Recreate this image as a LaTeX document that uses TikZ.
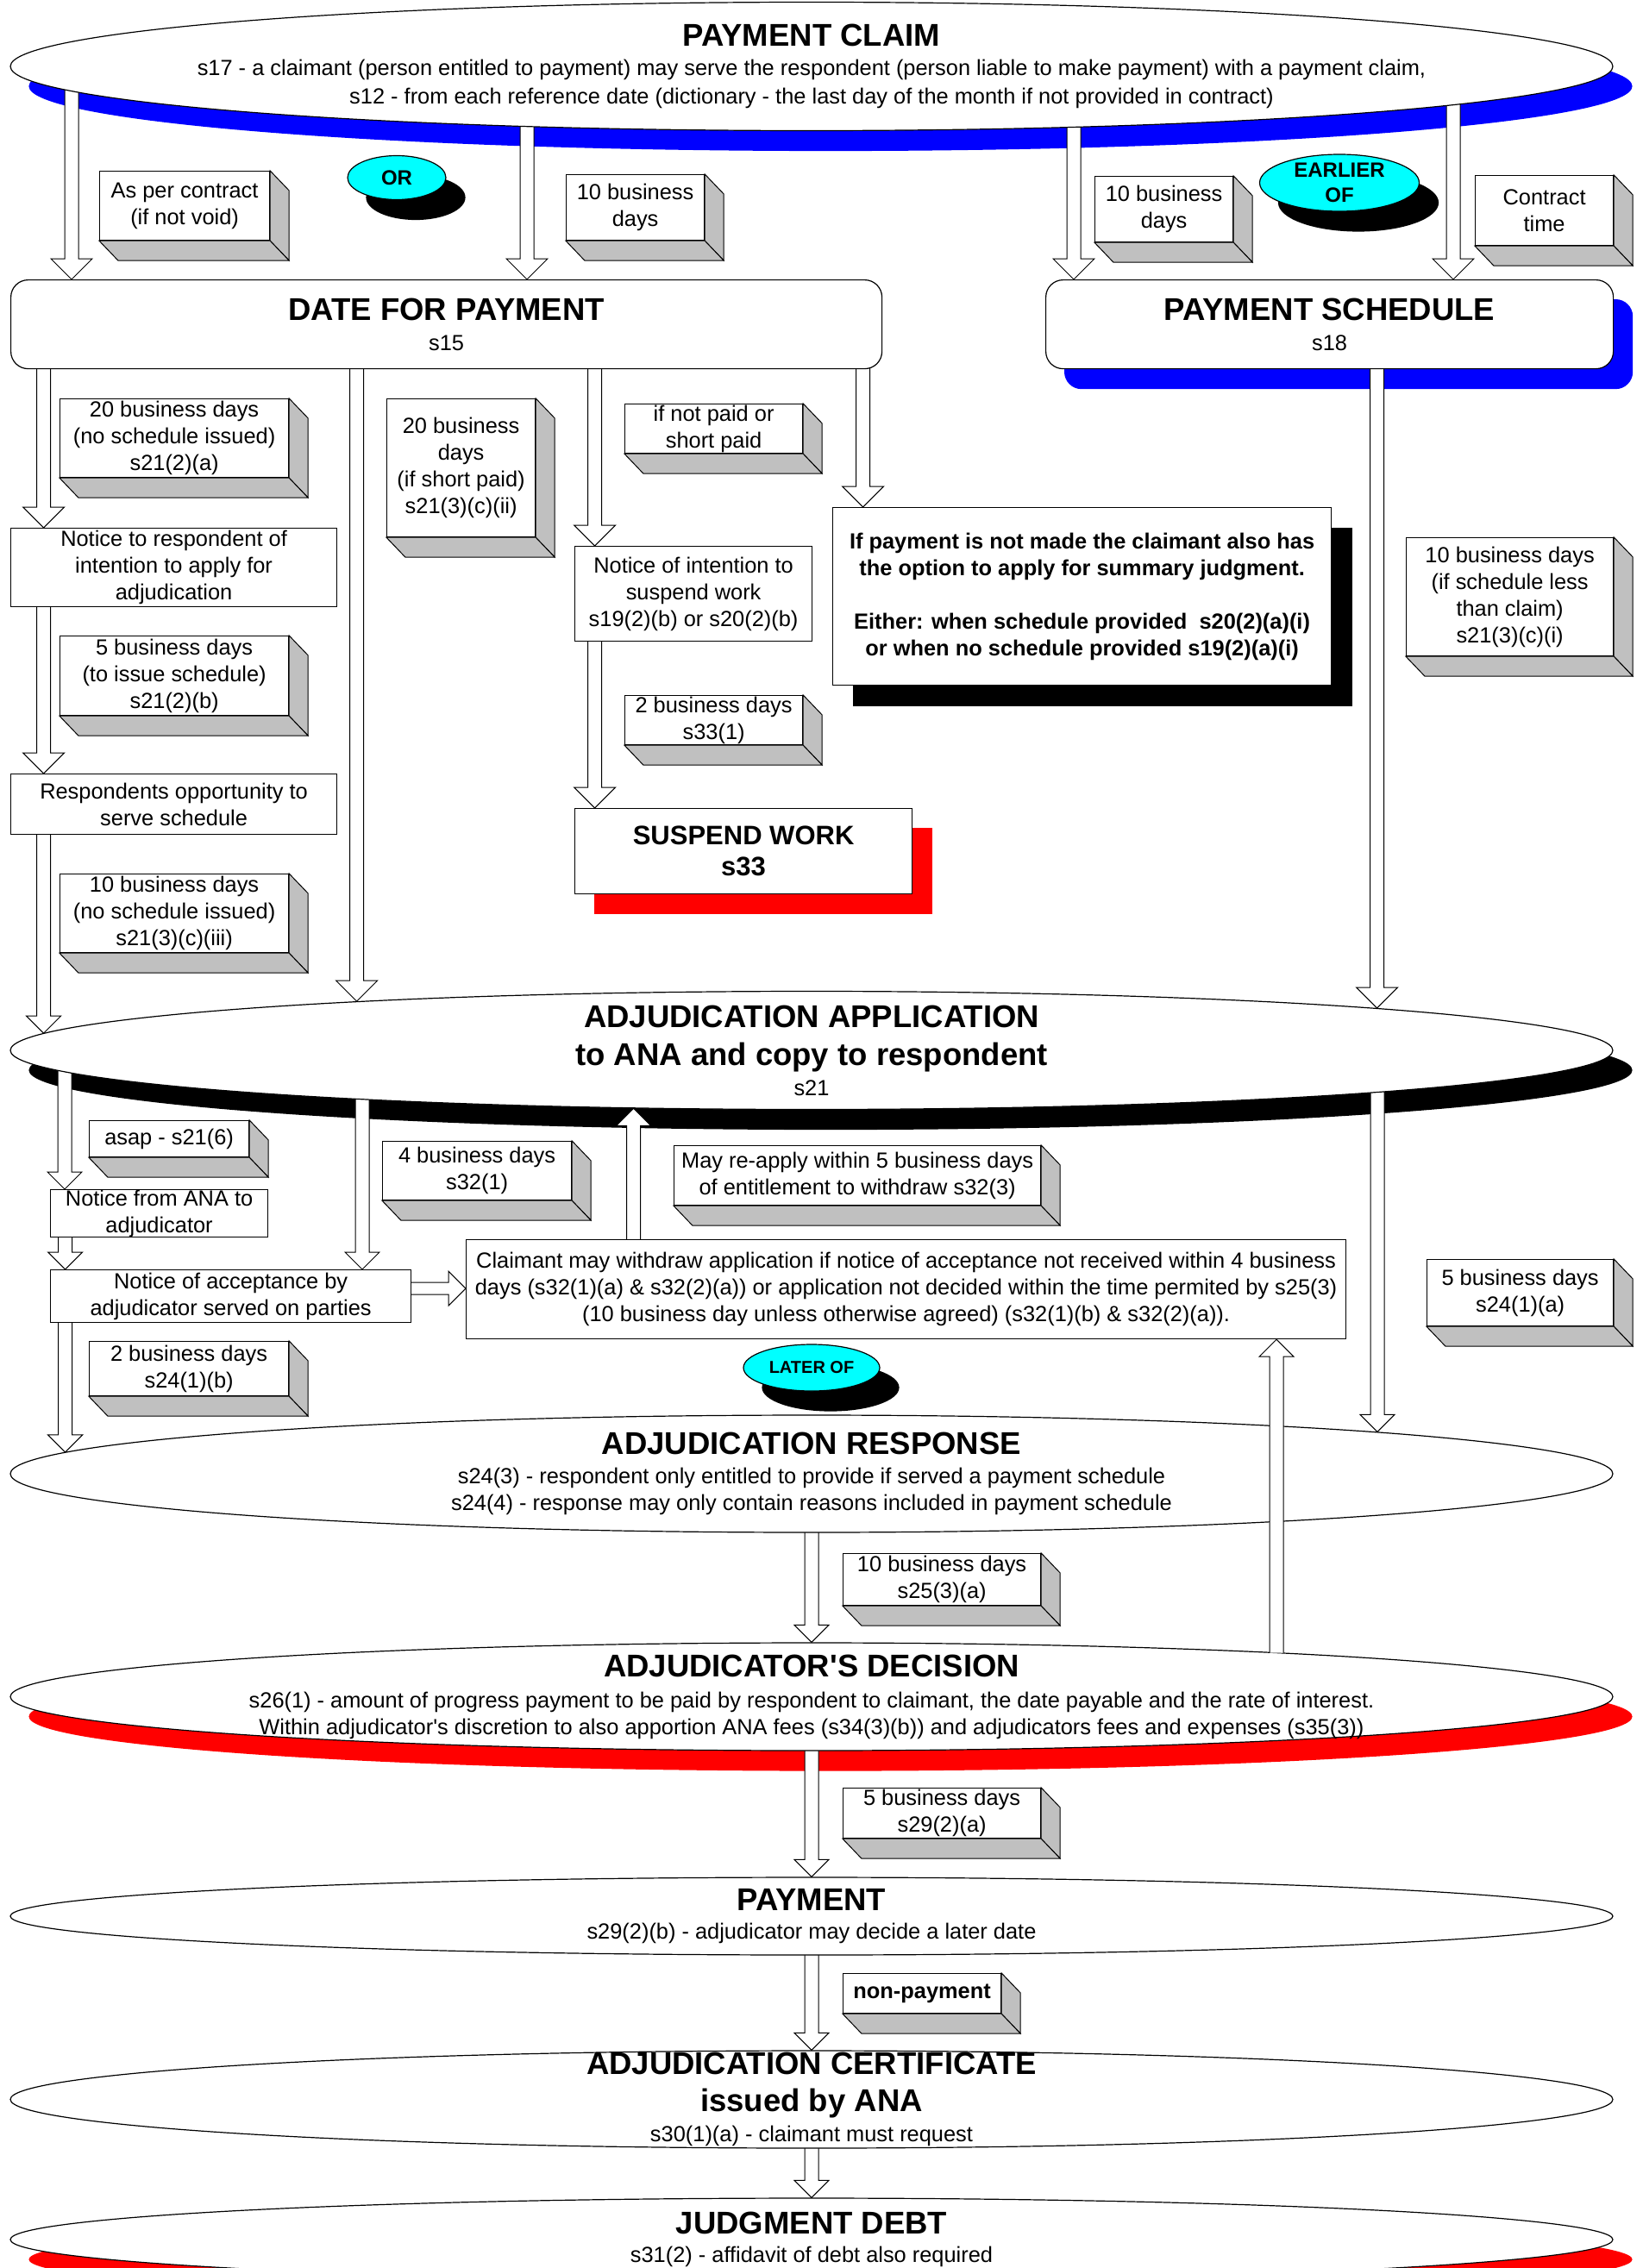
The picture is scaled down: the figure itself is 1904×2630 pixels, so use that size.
\documentclass[tikz,border=0pt]{standalone}
\usepackage{fontspec}
\setmainfont{Liberation Sans}
\usetikzlibrary{shapes.geometric,calc}

\definecolor{facegray}{HTML}{C0C0C0}
\definecolor{tagcyan}{RGB}{0,255,255}
\newcommand{\ptitle}[1]{{\fontsize{36.5}{40}\selectfont\bfseries #1}}

\pgfdeclarelayer{bg}
\pgfdeclarelayer{flow}
\pgfsetlayers{bg,flow,main}

\begin{document}
\begin{tikzpicture}[x=1pt, y=-1pt,
    base/.style={draw, fill=white, line width=1.2pt, align=center, inner sep=0pt,
      font=\fontsize{25.4}{31}\selectfont},
    box/.style 2 args={base, anchor=north west, minimum width=#1, minimum height=#2},
    rbox/.style 2 args={box={#1}{#2}, rounded corners=20pt},
    oval/.style={base, ellipse, minimum width=1858, minimum height=#1,
      inner xsep=-750pt, inner ysep=-90pt},
    tag/.style 2 args={draw, fill=tagcyan, ellipse, line width=1.2pt, inner sep=-20pt,
      minimum width=#1, minimum height=#2, align=center,
      font=\fontsize{24}{29}\selectfont\bfseries},
    face/.style={draw, fill=facegray, line width=1pt},
    arr/.style={draw=black, fill=white, line width=1pt},
    darr/.style={arr, to path={
        let \p1=(\tikztostart), \p2=(\tikztotarget) in
        (\x1-8pt,\y1) -- (\x1-8pt,\y2+#1pt) -- (\x1-#1pt,\y2+#1pt) -- (\x1,\y2)
        -- (\x1+#1pt,\y2+#1pt) -- (\x1+8pt,\y2+#1pt) -- (\x1+8pt,\y1)}},
    darr/.default=24,
    uarr/.style={arr, to path={
        let \p1=(\tikztostart), \p2=(\tikztotarget) in
        (\x1-8pt,\y1) -- (\x1-8pt,\y2-#1pt) -- (\x1-#1pt,\y2-#1pt) -- (\x1,\y2)
        -- (\x1+#1pt,\y2-#1pt) -- (\x1+8pt,\y2-#1pt) -- (\x1+8pt,\y1)}},
    uarr/.default=20,
    darre/.style={arr, to path={
        let \p1=(\tikztostart), \p2=(\tikztotarget.center), \p3=(\tikztotarget.east),
            \p4=(\tikztotarget.north),
            \n1={\y2+(\y4-(\y2))*sqrt(1-((\x1-\x2)/(\x3-\x2))^2)} in
        (\x1-8pt,\y1) -- (\x1-8pt,\n1+#1pt) -- (\x1-#1pt,\n1+#1pt) -- (\x1,\n1)
        -- (\x1+#1pt,\n1+#1pt) -- (\x1+8pt,\n1+#1pt) -- (\x1+8pt,\y1)}},
    darre/.default=24,
    uarre/.style={arr, to path={
        let \p1=(\tikztostart), \p2=(\tikztotarget.center), \p3=(\tikztotarget.east),
            \p4=(\tikztotarget.north),
            \n1={\y2-(\y4-(\y2))*sqrt(1-((\x1-\x2)/(\x3-\x2))^2)} in
        (\x1-8pt,\y1) -- (\x1-8pt,\n1-#1pt) -- (\x1-#1pt,\n1-#1pt) -- (\x1,\n1)
        -- (\x1+#1pt,\n1-#1pt) -- (\x1+8pt,\n1-#1pt) -- (\x1+8pt,\y1)}},
    uarre/.default=20,
    rarr/.style={arr, to path={
        let \p1=(\tikztostart), \p2=(\tikztotarget) in
        (\x1,\y1+7pt) -- (\x2-#1pt,\y1+7pt) -- (\x2-#1pt,\y1+#1pt) -- (\x2,\y1)
        -- (\x2-#1pt,\y1-#1pt) -- (\x2-#1pt,\y1-7pt) -- (\x1,\y1-7pt)}},
    rarr/.default=20]
  \useasboundingbox (0,0) rectangle (1904,2630);

  % Stages
  \node[oval=149] (claim) at (941,77) {\ptitle{PAYMENT CLAIM}\\[3pt]
    s17 - a claimant (person entitled to payment) may serve the respondent (person liable to make payment) with a payment claim,\\[2pt]
    s12 - from each reference date (dictionary - the last day of the month if not provided in contract)};
  \node[rbox={1010}{103}] (dfp) at (12,324) {\ptitle{DATE FOR PAYMENT}\\[4pt] s15};
  \node[rbox={658}{103}] (ps) at (1212,324) {\ptitle{PAYMENT SCHEDULE}\\[4pt] s18};
  \node[oval=137] (aa) at (941,1218) {\ptitle{ADJUDICATION APPLICATION}\\[13pt]
    \ptitle{to ANA and copy to respondent}\\[4pt] s21};
  \node[oval=136] (resp) at (941,1709) {\ptitle{ADJUDICATION RESPONSE}\\[3pt]
    s24(3) - respondent only entitled to provide if served a payment schedule\\
    s24(4) - response may only contain reasons included in payment schedule};
  \node[oval=125] (dec) at (941,1967.5) {\ptitle{ADJUDICATOR\textquotesingle S DECISION}\\[5pt]
    s26(1) - amount of progress payment to be paid by respondent to claimant, the date payable and the rate of interest.\\
    Within adjudicator\textquotesingle s discretion to also apportion ANA fees (s34(3)(b)) and adjudicators fees and expenses (s35(3))};
  \node[oval=90] (pay) at (941,2222) {\ptitle{PAYMENT}\\[2pt] s29(2)(b) - adjudicator may decide a later date};
  \node[oval=113] (cert) at (941,2434.5) {\ptitle{ADJUDICATION CERTIFICATE}\\[12pt]
    \ptitle{issued by ANA}\\[4pt] s30(1)(a) - claimant must request};
  \node[oval=96] (jd) at (941,2597) {\ptitle{JUDGMENT DEBT}\\[2pt] s31(2) - affidavit of debt also required};

  % Steps
  \node[box={378}{91}] (ntr) at (12,612) {Notice to respondent of\\intention to apply for\\adjudication};
  \node[box={275}{110}] (nis) at (666,633) {Notice of intention to\\suspend work\\s19(2)(b) or s20(2)(b)};
  \node[box={578}{206}, font=\fontsize{25.4}{31}\selectfont\bfseries] (sj) at (965,588)
    {If payment is not made the claimant also has\\the option to apply for summary judgment.\\[31pt]
     Either: when schedule provided \ s20(2)(a)(i)\\or when no schedule provided s19(2)(a)(i)};
  \node[box={391}{99}, font=\fontsize{31}{36}\selectfont\bfseries] (sw) at (666,937) {SUSPEND WORK\\s33};
  \node[box={378}{70}] (ros) at (12,897) {Respondents opportunity to\\serve schedule};
  \node[box={252}{55}] (nana) at (58,1379) {Notice from ANA to\\adjudicator};
  \node[box={418}{61}] (noa) at (58,1472) {Notice of acceptance by\\adjudicator served on parties};
  \node[box={1020}{115}] (cw) at (540,1437)
    {Claimant may withdraw application if notice of acceptance not received within 4 business\\
     days (s32(1)(a) \& s32(2)(a)) or application not decided within the time permited by s25(3)\\
     (10 business day unless otherwise agreed) (s32(1)(b) \& s32(2)(a)).};

  % Time notes
  \node[box={197}{80}] (apc) at (115,198) {As per contract\\(if not void)};
  \node[box={160}{76}] (tena) at (656,202) {10 business\\days};
  \node[box={160}{76}] (tenb) at (1269,204) {10 business\\days};
  \node[box={160}{81}] (ct) at (1710,203) {Contract\\time};
  \node[box={265}{91}] (twa) at (69,462) {20 business days\\(no schedule issued)\\s21(2)(a)};
  \node[box={172}{160}] (twb) at (448,462) {20 business\\days\\(if short paid)\\s21(3)(c)(ii)};
  \node[box={206}{57}] (npd) at (724,468) {if not paid or\\short paid};
  \node[box={240}{137}] (tenc) at (1630,623) {10 business days\\(if schedule less\\than claim)\\s21(3)(c)(i)};
  \node[box={265}{92}] (fva) at (69,737) {5 business days\\(to issue schedule)\\s21(2)(b)};
  \node[box={206}{57}] (twoa) at (724,806) {2 business days\\s33(1)};
  \node[box={265}{91}] (tend) at (69,1013) {10 business days\\(no schedule issued)\\s21(3)(c)(iii)};
  \node[box={185}{42}] (asap) at (103,1299) {asap - s21(6)};
  \node[box={219}{68}] (four) at (443,1323) {4 business days\\s32(1)};
  \node[box={425}{69}] (reap) at (781,1328) {May re-apply within 5 business days\\of entitlement to withdraw s32(3)};
  \node[box={216}{77}] (fvb) at (1654,1460) {5 business days\\s24(1)(a)};
  \node[box={231}{63}] (twob) at (103,1555) {2 business days\\s24(1)(b)};
  \node[box={229}{60}] (tene) at (977,1801) {10 business days\\s25(3)(a)};
  \node[box={229}{58}] (fvc) at (977,2073) {5 business days\\s29(2)(a)};
  \node[box={183}{46}, font=\fontsize{25.4}{31}\selectfont\bfseries] (nonp) at (977,2288) {non-payment};

  % Choice tags
  \node[tag={114}{51}] (tor) at (460,206) {OR};
  \node[tag={185}{66}] (tearly) at (1553,212) {EARLIER\\OF};
  \node[tag={158}{54}, font=\fontsize{20}{24}\selectfont\bfseries] (tlater) at (941,1586) {LATER OF};

  % 3D faces of the notes
  \foreach \nm in {apc,tena,tenb,ct,twa,twb,npd,tenc,fva,twoa,tend,asap,four,reap,fvb,twob,tene,fvc,nonp}{
    \draw[face] (\nm.north east) -- ++(22,23) -- ([shift={(22,23)}]\nm.south east) -- (\nm.south east) -- cycle;
    \draw[face] (\nm.south west) -- (\nm.south east) -- ++(22,23) -- ([shift={(22,23)}]\nm.south west) -- cycle;
  }

  % Shadows
  \begin{pgfonlayer}{bg}
    \foreach \nd/\col in {claim/blue, aa/black, dec/red, jd/red, tor/black, tearly/black, tlater/black}
      \fill[\col] let \p1=(\nd.east), \p2=(\nd.north), \p3=(\nd.center) in
        ([shift={(22,23)}]\nd.center) ellipse [x radius={\x1-\x3}, y radius={\y2-(\y3)}];
    \fill[blue, rounded corners=20pt] ([shift={(22,23)}]ps.north west) rectangle ([shift={(22,23)}]ps.south east);
    \fill[black] ([shift={(24,24)}]sj.north west) rectangle ([shift={(24,24)}]sj.south east);
    \fill[red] ([shift={(23,23)}]sw.north west) rectangle ([shift={(23,23)}]sw.south east);
  \end{pgfonlayer}

  % Arrows
  \begin{pgfonlayer}{flow}
    \draw[darr] ([xshift=-858]claim.center) to (dfp.north);
    \draw[darr] ([xshift=-330]claim.center) to (dfp.north);
    \draw[darr] ([xshift=304]claim.center) to (ps.north);
    \draw[darr] ([xshift=744]claim.center) to (ps.north);
    \draw[darr] ([xshift=-467]dfp.center) to (ntr.north);
    \draw[darre] ([xshift=-104]dfp.center) to (aa);
    \draw[darr] ([xshift=172]dfp.center) to (nis.north);
    \draw[darr] ([xshift=483]dfp.center) to (sj.north);
    \draw[darr] ([xshift=-151]ntr.center) to (ros.north);
    \draw[darre=20] ([xshift=-151]ros.center) to (aa);
    \draw[darr] ([xshift=-114.5]nis.center) to (sw.north);
    \draw[darre] ([xshift=55]ps.center) to (aa);
    \draw[darr=20] ([xshift=-866]aa.center) to (nana.north);
    \draw[darr=20] ([xshift=-109]nana.center) to (noa.north);
    \draw[darr=20] ([xshift=-521]aa.center) to (noa.north);
    \draw[rarr] ([yshift=9]noa.center) to (cw.west);
    \draw[uarre] ([xshift=-316]cw.center) to (aa);
    \draw[darre=20] ([xshift=656]aa.center) to (resp);
    \draw[darre=20] ([xshift=-192]noa.center) to (resp);
    \draw[darre=20] (resp.center) to (dec);
    \draw[darre=20] (dec.center) to (pay);
    \draw[darre=20] (pay.center) to (cert);
    \draw[darre=20] (cert.center) to (jd);
  \end{pgfonlayer}
  \draw[uarr] ([shift={(539,-51)}]dec.center) to (cw.south);
\end{tikzpicture}
\end{document}
